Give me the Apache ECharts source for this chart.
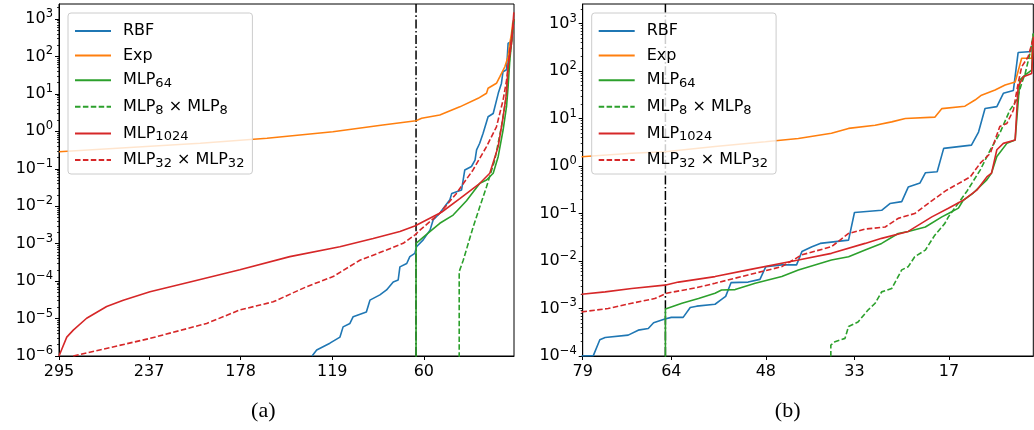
<!DOCTYPE html>
<html><head><meta charset="utf-8">
<script src="https://cdn.jsdelivr.net/npm/echarts@6/dist/echarts.min.js"></script>
<style>html,body{margin:0;padding:0;background:#fff}#c{width:1034px;height:430px}</style>
</head><body><div id="c"></div><script>
// ---------- tick labels ----------
const xTicksA = [295, 237, 178, 119, 60];
const xTicksB = [79, 64, 48, 33, 17];
const yMajorA = [1e-6, 1e-5, 1e-4, 1e-3, 1e-2, 1e-1, 1e0, 1e1, 1e2, 1e3];
const yMajorB = [1e-4, 1e-3, 1e-2, 1e-1, 1e0, 1e1, 1e2, 1e3];
const thresholdX = 65;
const seriesNames = ['RBF', 'Exp', 'MLP64', 'MLP8 × MLP8', 'MLP1024', 'MLP32 × MLP32'];

// ---------- panel (a) ----------
const aRBF = [[132,1.0e-6],[129,1.45e-6],[120.5,2.2e-6],[114,3.2e-6],[112,6.0e-6],[107.6,7.4e-6],[105.5,1.12e-5],[97,1.5e-5],[94.7,3.1e-5],[88.3,4.3e-5],[84,5.8e-5],[79.7,9.5e-5],[76.5,1.07e-4],[75.4,2.4e-4],[71,2.95e-4],[69,4.5e-4],[65.8,5.5e-4],[64.7,8.3e-4],[60.4,1.26e-3],[56,2.3e-3],[54,4.3e-3],[49.7,6.5e-3],[47.5,8.7e-3],[43.2,1.48e-2],[42,2.2e-2],[35.7,2.7e-2],[33.6,9.3e-2],[29.3,0.115],[27,0.17],[26,0.32],[24,0.48],[21.8,0.89],[18.6,2.45],[15.3,3.0],[12,10.5],[10,19],[9,39],[6.7,44],[5.7,224],[3.5,245],[2,930]];
const aExp = [[295,0.286],[204,0.479],[161,0.652],[118.6,0.977],[86.4,1.48],[65,1.92],[61.4,2.23],[49.7,2.73],[36.8,4.5],[25,7.6],[19.6,10.4],[18.6,14.1],[13.2,19.2],[11,28.8],[7.8,53],[5.7,98],[4.6,224],[3.5,415],[2.7,800]];
const aMLP64 = [[65,1e-9],[65,1.02e-3],[56.1,2.1e-3],[49.7,3.5e-3],[41.1,5.8e-3],[32.5,1.4e-2],[23.9,4.1e-2],[19.6,5.0e-2],[15.3,7.6e-2],[12.1,0.21],[8.9,1.1],[6.7,4.6],[5.7,15.5],[4.6,79],[2.9,417],[2,1000]];
const aMLP8x8 = [[37.2,1e-9],[37.2,1.8e-4],[34.6,3.6e-4],[28.2,2.8e-3],[23.9,9.8e-3],[19.6,3.3e-2],[14.3,0.17],[10,1.32],[7.2,6.9],[5.7,35],[3.5,275],[2,1000]];
const aMLP1024 = [[295,1.0e-6],[290,3.2e-6],[285.8,4.9e-6],[277.2,1.02e-5],[264.3,2.1e-5],[253.6,3.1e-5],[236.4,5.2e-5],[210.6,9.5e-5],[178.5,2.0e-4],[146.3,4.5e-4],[114.1,8.3e-4],[92.6,1.38e-3],[75.4,2.1e-3],[65.8,2.95e-3],[48.6,6.9e-3],[36.8,1.6e-2],[23.9,4.1e-2],[17.5,7.6e-2],[12.1,0.39],[8.9,2.45],[6.7,10.5],[5.7,54],[3.5,224],[2,1500]];
const aMLP32x32 = [[285.8,1.0e-6],[236.4,2.95e-6],[199.9,7.4e-6],[178.5,1.7e-5],[157,2.8e-5],[135.5,7.1e-5],[118.4,1.32e-4],[101.2,3.6e-4],[84,6.8e-4],[73.3,1.02e-3],[65.8,1.7e-3],[62.5,2.3e-3],[49.7,6.5e-3],[39,2.2e-2],[28.3,9.3e-2],[19.6,0.39],[13.2,1.32],[8.9,6.9],[6.7,23],[4.6,148],[2.9,417],[2,1000]];

// ---------- panel (b) ----------
const bRBF = [[79.2,1.0e-4],[77.2,1.02e-4],[76.1,2.2e-4],[75.2,2.45e-4],[71.3,2.75e-4],[69.6,3.5e-4],[67.9,3.8e-4],[67,5.0e-4],[65.1,6.0e-4],[64,6.5e-4],[62,6.5e-4],[60.8,1.05e-3],[59.7,1.12e-3],[56.6,1.23e-3],[55.5,1.55e-3],[54.8,1.8e-3],[53.9,3.5e-3],[51,3.6e-3],[49,4.1e-3],[48,7.6e-3],[45.3,8.3e-3],[42.8,8.3e-3],[41.9,1.58e-2],[40.2,2.0e-2],[38.8,2.35e-2],[34,2.75e-2],[33,0.105],[28.4,0.117],[27,0.162],[25,0.178],[23.9,0.36],[21.9,0.44],[21,0.72],[19,0.76],[17.9,2.35],[13.2,2.75],[12,5.2],[10.9,16.2],[8.9,17.8],[7.8,34],[6.1,39],[5.3,245],[3,257],[2.7,617]];
const bExp = [[79.2,1.57],[70.7,1.86],[65.1,2.0],[56.6,2.57],[48.1,3.24],[42.5,3.8],[36.9,4.9],[34,6.2],[29.5,7.2],[26.7,8.5],[24.4,10.0],[19.4,10.7],[18.2,16.2],[14.3,18.2],[12.6,24.5],[11.5,31],[9.2,40],[7.5,51],[5.8,59],[4.7,186],[3.0,186],[2.7,600]];
const bMLP64 = [[65,1e-9],[65,9.8e-4],[62.2,1.29e-3],[59.4,1.62e-3],[56.6,2.1e-3],[55.5,2.45e-3],[53.2,2.5e-3],[49.8,3.4e-3],[45.3,4.7e-3],[42.5,6.5e-3],[36.9,1.05e-2],[34,1.23e-2],[31.2,1.7e-2],[28.4,2.35e-2],[25.6,3.8e-2],[23.9,4.2e-2],[21,5.2e-2],[18.2,8.5e-2],[17.1,0.10],[15.4,0.13],[14.6,0.19],[12.9,0.27],[10.6,0.51],[9.8,0.71],[8.9,1.58],[7.2,3.0],[5.8,3.55],[5.0,65],[4.1,83],[3,105],[2.7,615]];
const bMLP8x8 = [[37,1e-9],[37,1.7e-4],[36.3,2.0e-4],[34.6,2.35e-4],[34,4.2e-4],[32.4,5.2e-4],[30.7,9.3e-4],[29.5,1.29e-3],[28.4,2.24e-3],[26.7,2.63e-3],[25,6.5e-3],[23.9,7.6e-3],[22.8,1.23e-2],[21,1.7e-2],[19.4,3.5e-2],[17.7,6.2e-2],[17.1,8.5e-2],[14.0,0.29],[11.7,0.83],[10,2.2],[8.4,4.9],[6.7,15],[5.5,25],[4.7,55],[4.1,89],[3.3,234],[2.7,615]];
const bMLP1024 = [[79.2,2.0e-3],[75.2,2.24e-3],[70.7,2.63e-3],[65.1,3.1e-3],[62.8,3.6e-3],[56.6,4.7e-3],[51,6.5e-3],[42.5,1.05e-2],[36.9,1.45e-2],[31.2,2.35e-2],[28.4,3.0e-2],[23.9,4.2e-2],[19.9,8.5e-2],[17.1,0.129],[14.6,0.19],[12.3,0.31],[10.6,0.59],[9.8,0.71],[8.9,2.2],[7.8,3.0],[5.8,3.55],[5.3,47],[4.4,76],[3,89],[2.7,525]];
const bMLP32x32 = [[79.2,8.5e-4],[74.7,1.0e-3],[70.7,1.29e-3],[66.8,1.62e-3],[64.8,2.1e-3],[60,2.7e-3],[56.6,3.4e-3],[51,5.1e-3],[45.3,7.6e-3],[41.9,1.35e-2],[36.9,2.0e-2],[34,3.8e-2],[31.2,4.7e-2],[27.8,5.2e-2],[25.6,7.9e-2],[22.8,0.10],[19.8,0.19],[17.4,0.31],[13.4,0.59],[11.7,1.15],[10,1.86],[8.4,6.8],[7.2,7.9],[6.1,15],[5.3,55],[4.7,123],[3.6,200],[2.7,500]];

// ---------- styling ----------
const COLORS = {RBF:'#1f77b4', Exp:'#ff7f0e', G:'#2ca02c', R:'#d62728'};
const FONT = 'DejaVu Sans';
function minorTicks(lo, hi) {
  const out = [];
  for (let e = lo; e <= hi; e++) for (let m = 2; m <= 9; m++) out.push(m * Math.pow(10, e));
  return out;
}
const yMaxA = 2512, yMaxB = 2580;
const minorA = minorTicks(-6, 3).filter(v => v < yMaxA);
const minorB = minorTicks(-4, 3).filter(v => v < yMaxB);
function supFmt(v) {
  const e = Math.round(Math.log10(v));
  return '{b|10}{s|' + (e < 0 ? '\u2212' + (-e) : e) + '}';
}
const yRich = {
  b: {fontSize: 16, fontFamily: FONT, color: '#000', lineHeight: 22},
  s: {fontSize: 11.5, fontFamily: FONT, color: '#000', lineHeight: 16, verticalAlign: 'top'}
};
const legendLabels = {
  'RBF': '{n|RBF}', 'Exp': '{n|Exp}', 'MLP64': '{n|MLP}{s|64}', 'MLP8 × MLP8': '{n|MLP}{s|8}{n| × MLP}{s|8}',
  'MLP1024': '{n|MLP}{s|1024}', 'MLP32 × MLP32': '{n|MLP}{s|32}{n| × MLP}{s|32}'
};
function yAxes(grid, min, max, major, minor) {
  return [{
    type: 'log', gridIndex: grid, min: min, max: max, position: 'left',
    axisLine: {show: true, lineStyle: {color: '#000', width: 1}},
    axisTick: {show: true, length: 4, customValues: major, lineStyle: {color: '#000', width: 1}},
    axisLabel: {customValues: major, formatter: supFmt, rich: yRich, margin: 6, color: '#000'},
    splitLine: {show: false}
  }, {
    type: 'log', gridIndex: grid, min: min, max: max, position: 'left',
    axisLine: {show: false},
    axisTick: {show: true, length: 2, customValues: minor, lineStyle: {color: '#000', width: 0.8}},
    axisLabel: {show: false}, splitLine: {show: false}
  }];
}
function xAxis(grid, min, max, ticks) {
  return {
    type: 'value', gridIndex: grid, inverse: true, min: min, max: max,
    axisLine: {show: true, onZero: false, lineStyle: {color: '#000', width: 1}},
    axisTick: {show: true, length: 4, customValues: ticks, lineStyle: {color: '#000'}},
    axisLabel: {customValues: ticks, margin: 8, color: '#000', fontSize: 16, fontFamily: FONT,
      formatter: v => String(Math.round(v))},
    splitLine: {show: false}
  };
}
function mk(name, data, color, dashed, gi) {
  return {
    type: 'line', name: name, data: data, xAxisIndex: gi, yAxisIndex: gi * 2,
    symbol: 'none', showSymbol: false, animation: false, clip: true,
    lineStyle: {color: color, width: 1.6, type: dashed ? [5.5, 2.4] : 'solid'},
    itemStyle: {color: color}, emphasis: {disabled: true}
  };
}
function vline(gi, ymin, ymax) {
  return {
    type: 'line', data: [[thresholdX, ymin], [thresholdX, ymax]], xAxisIndex: gi, yAxisIndex: gi * 2,
    symbol: 'none', animation: false, silent: true, z: 1,
    lineStyle: {color: '#000', width: 1.5, type: [9, 2.5, 1.6, 2.5]}
  };
}
function legend(left) {
  return {
    left: left, top: 13, orient: 'vertical', data: seriesNames, selectedMode: false,
    itemWidth: 36, itemHeight: 20, itemGap: 8.6, padding: [10, 8, 4, 6],
    borderColor: '#cccccc', borderWidth: 1, borderRadius: 3, backgroundColor: 'rgba(255,255,255,0.8)',
    itemStyle: {opacity: 0},
    formatter: n => legendLabels[n],
    textStyle: {fontSize: 16, fontFamily: FONT, color: '#000', padding: [0, 0, 0, 7],
      rich: {
        n: {fontSize: 16, fontFamily: FONT, color: '#000', lineHeight: 20},
        s: {fontSize: 13, fontFamily: FONT, color: '#000', lineHeight: 13, verticalAlign: 'bottom'}
      }}
  };
}

const chart = echarts.init(document.getElementById('c'), null, {renderer: 'canvas'});
chart.setOption({
  animation: false,
  backgroundColor: '#fff',
  grid: [
    {left: 59, top: 4, width: 455, height: 352, show: true, borderColor: '#000', borderWidth: 1, containLabel: false},
    {left: 582.7, top: 4, width: 450.6, height: 352, show: true, borderColor: '#000', borderWidth: 1, containLabel: false}
  ],
  xAxis: [xAxis(0, 1.9, 295, xTicksA), xAxis(1, 2.73, 79, xTicksB)],
  yAxis: yAxes(0, 1e-6, yMaxA, yMajorA, minorA).concat(yAxes(1, 1e-4, yMaxB, yMajorB, minorB)),
  legend: [legend(68), legend(591.7)],
  graphic: [
    {type: 'text', x: 263.3, y: 411, style: {text: '(a)', font: '22px "Liberation Serif"', fill: '#000', textAlign: 'center', textVerticalAlign: 'middle'}},
    {type: 'text', x: 787.7, y: 411, style: {text: '(b)', font: '22px "Liberation Serif"', fill: '#000', textAlign: 'center', textVerticalAlign: 'middle'}}
  ],
  series: [
    vline(0, 1e-6, yMaxA),
    mk('RBF', aRBF, COLORS.RBF, false, 0),
    mk('Exp', aExp, COLORS.Exp, false, 0),
    mk('MLP64', aMLP64, COLORS.G, false, 0),
    mk('MLP8 × MLP8', aMLP8x8, COLORS.G, true, 0),
    mk('MLP1024', aMLP1024, COLORS.R, false, 0),
    mk('MLP32 × MLP32', aMLP32x32, COLORS.R, true, 0),
    vline(1, 1e-4, yMaxB),
    mk('RBF', bRBF, COLORS.RBF, false, 1),
    mk('Exp', bExp, COLORS.Exp, false, 1),
    mk('MLP64', bMLP64, COLORS.G, false, 1),
    mk('MLP8 × MLP8', bMLP8x8, COLORS.G, true, 1),
    mk('MLP1024', bMLP1024, COLORS.R, false, 1),
    mk('MLP32 × MLP32', bMLP32x32, COLORS.R, true, 1)
  ]
});
</script></body></html>
